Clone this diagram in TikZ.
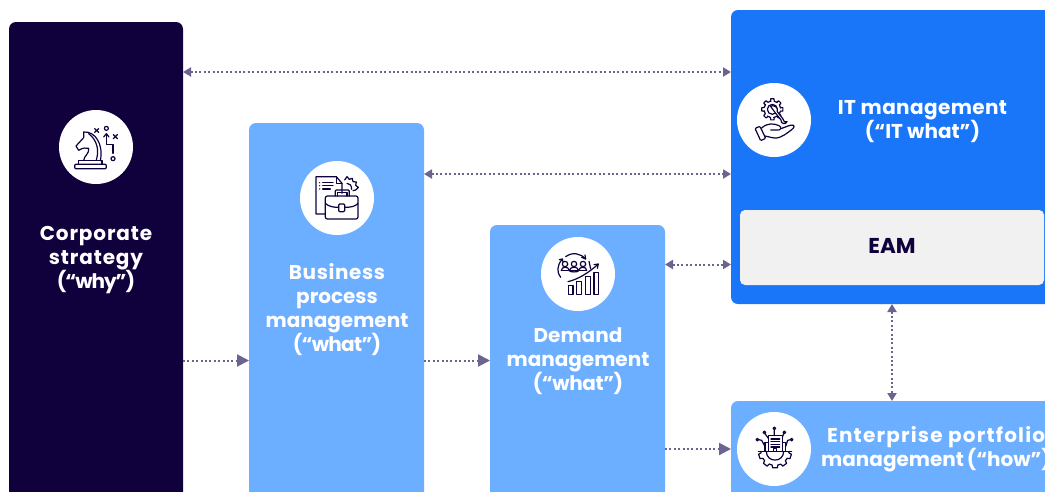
\documentclass[tikz,border=0pt]{standalone}
\usepackage{fontspec}
\setmainfont{Poppins}
\usetikzlibrary{arrows.meta}
\definecolor{navy}{HTML}{10003C}
\definecolor{midblue}{HTML}{1976F8}
\definecolor{lightblue}{HTML}{6CAEFF}
\definecolor{paleg}{HTML}{F1F1F1}
\definecolor{linkc}{HTML}{6B6490}
\tikzset{
  x=1pt,y=-1pt,
  panel/.style={rectangle,rounded corners=7pt,anchor=north west,inner sep=0pt,outer sep=0pt},
  disc/.style={circle,fill=white,minimum size=74pt,inner sep=0pt,outer sep=0pt},
  paneltext/.style={align=center,font=\fontsize{20}{24}\selectfont\bfseries,text=white,inner sep=0pt},
  link/.style={draw=linkc,line width=2pt,dash pattern=on 2pt off 2.4pt},
  oneway/.style={link,-{Triangle[length=12pt,width=12pt,fill=linkc]}},
  twoway/.style={link,{Triangle[length=8pt,width=9pt,fill=linkc]}-{Triangle[length=8pt,width=9pt,fill=linkc]}},
  icon/.style={x=0.3333pt,y=-0.3333pt,draw=navy,line width=1.2pt,line join=round,line cap=round},
}
\newcommand{\ls}[2]{{\addfontfeature{LetterSpace=#1}#2}}
% one gear tooth and the valley after it: cx cy r h angle half-width next-offset
\newcommand{\gearseg}[7]{%
  \draw ([shift={(#1,#2)}]#5-#6-4:#3) -- ([shift={(#1,#2)}]#5-#6:#3+#4) -- ([shift={(#1,#2)}]#5+#6:#3+#4) -- ([shift={(#1,#2)}]#5+#6+4:#3) -- ([shift={(#1,#2)}]#5+#7:#3);}
\begin{document}
\begin{tikzpicture}
\useasboundingbox (0,0) rectangle (1045,491);
\clip (0,0) rectangle (1045,491);
\fill[white] (0,0) rectangle (1045,491);
% panels
\node[panel,fill=navy,minimum width=174pt,minimum height=500pt] (corp) at (9,22) {};
\node[panel,fill=lightblue,minimum width=175pt,minimum height=400pt] (bpm) at (249,123) {};
\node[panel,fill=lightblue,minimum width=175pt,minimum height=300pt] (dem) at (490,225) {};
\node[panel,fill=midblue,minimum width=340pt,minimum height=294pt] (it) at (731,10) {};
\node[panel,fill=paleg,minimum width=304pt,minimum height=75pt,rounded corners=5pt] (eam) at (740,210) {};
\node[panel,fill=lightblue,minimum width=340pt,minimum height=120pt] (ent) at (731,401) {};
% discs
\node[disc] (d1) at (96,147) {};
\node[disc] (d2) at (337,198) {};
\node[disc] (d3) at (578,274) {};
\node[disc] (d4) at (774,120) {};
\node[disc] (d5) at (774,449) {};
% labels
\node[paneltext] (t1) at (96,260) {\ls{4.4}{Corporate}\\\ls{4.3}{strategy}\\\ls{-5}{(“why”)}};
\node[paneltext] (t2) at (337,310) {\ls{3}{Business}\\process\\management\\\ls{-3.5}{(“what”)}};
\node[paneltext] (t3) at (578,361) {Demand\\management\\\ls{-2}{(“what”)}};
\node[paneltext] (t4) at (922.5,122) {\ls{2}{IT management}\\(“IT what”)};
\node[paneltext,text=navy,font=\fontsize{21.5}{24}\selectfont\bfseries] (t5) at (892,246) {EAM};
\node[paneltext,anchor=west] (t6) at (821,449.5) {\ls{6}{Enterprise portfolio}\\management\kern-1.5pt{} (“how”)};
% connector heights
\coordinate (y1) at (0,72);
\coordinate (y2) at (0,174);
\coordinate (y3) at (0,264.5);
\coordinate (y4) at (0,360.5);
\coordinate (y5) at (0,449);
\coordinate (x6) at (892,0);
\draw[twoway] (corp.east |- y1) -- (it.west |- y1);
\draw[twoway] (bpm.east |- y2) -- (it.west |- y2);
\draw[twoway] (dem.east |- y3) -- (it.west |- y3);
\draw[oneway] (corp.east |- y4) -- (bpm.west |- y4);
\draw[oneway] (bpm.east |- y4) -- (dem.west |- y4);
\draw[oneway] (dem.east |- y5) -- (ent.west |- y5);
\draw[twoway] (x6 |- it.south) -- (x6 |- ent.north);
% icon 1: knight
\begin{scope}[shift={(d1.center)},icon,shift={(-227,-168)}]
\draw[rounded corners=1pt] (163,220) rectangle (258,233);
\draw (175,220) -- (175,209) -- (245,209) -- (245,220);
\draw (190,209) .. controls (190,195) and (208,188) .. (205,172) .. controls (195,172) and (190,168) .. (175,178) -- (167,165) -- (190,140) -- (190,123) .. controls (225,120) and (250,160) .. (240,209);
\draw (205,128) .. controls (228,145) and (238,175) .. (228,207);
\draw (223,113) -- (235,124) (235,113) -- (223,124);
\draw (279,131) -- (291,143) (291,131) -- (279,143);
\draw (258,112) circle[radius=2pt];
\draw (278,203) circle[radius=2pt];
\draw (278,187) -- (278,160) -- (258,160) -- (258,130);
\draw (250,138) -- (258,128) -- (266,138);
\end{scope}
% icon 2: document and briefcase
\begin{scope}[shift={(d2.center)},icon,shift={(-170,-144)}]
\draw (133,192) -- (107,192) -- (107,80) -- (168,80) -- (185,100) -- (185,130);
\draw (168,80) -- (168,100) -- (185,100);
\draw (127,98) -- (158,98) (127,107) -- (158,107) (127,117) -- (150,117);
\fill[navy,draw=none] (118,98) circle[radius=0.7pt] (118,107) circle[radius=0.7pt] (118,117) circle[radius=0.7pt];
\draw (193,90) -- (200,80) -- (207,88) -- (216,85) -- (218,95) -- (228,96) -- (226,106) -- (234,112) -- (226,120) -- (218,122);
\draw (200,100) .. controls (208,100) and (214,106) .. (214,118);
\draw[rounded corners=1pt] (165,138) -- (165,120) -- (207,120) -- (207,138);
\draw (172,138) -- (172,128) -- (200,128) -- (200,138);
\draw[rounded corners=2pt] (135,138) rectangle (233,207);
\draw (135,160) .. controls (145,170) and (160,172) .. (175,172);
\draw (193,172) .. controls (210,172) and (225,170) .. (233,160);
\draw[rounded corners=1pt] (175,162) rectangle (193,185);
\end{scope}
% icon 3: team and growth
\begin{scope}[shift={(d3.center)},icon,shift={(-172,-130)}]
\draw (133,100) circle[radius=2.7pt] (160,100) circle[radius=2.7pt] (187,100) circle[radius=2.7pt];
\draw (122,120) .. controls (122,106) and (144,106) .. (146,120) .. controls (148,106) and (172,106) .. (174,120) .. controls (176,106) and (198,106) .. (198,120);
\draw (122,120) -- (198,120);
\draw (146,120) .. controls (146,125) and (174,125) .. (174,120);
\draw (143,165) rectangle (157,192);
\draw (168,152) rectangle (183,192);
\draw (195,138) rectangle (209,192);
\draw (220,125) rectangle (233,192);
\draw (142,153) .. controls (175,145) and (205,125) .. (232,101);
\draw (220,102) -- (233,100) -- (230,113);
\draw (135,78) .. controls (155,63) and (180,68) .. (195,85);
\draw (183,80) -- (195,85) -- (193,73);
\draw (120,140) .. controls (108,125) and (108,105) .. (125,85);
\draw (116,87) -- (125,85) -- (127,94);
\draw (205,92) -- (210,115);
\end{scope}
% icon 4: hand and gear
\begin{scope}[shift={(d4.center)},icon,shift={(-145,-150)}]
\foreach \a in {0,45,...,315}{\gearseg{140}{118}{25}{7}{\a}{9}{36}}
\draw (140,118) circle[radius=5pt];
\draw[fill=white] (134,108) -- (150,130) -- (166,150) .. controls (165,162) and (180,165) .. (184,155) -- (176,155) -- (172,147) -- (155,125) .. controls (158,110) and (145,105) .. (134,108);
\draw[rounded corners=1pt] (88,175) -- (103,169) -- (120,205) -- (105,212) -- cycle;
\draw (108,174) .. controls (125,158) and (145,160) .. (160,167) .. controls (170,172) and (165,182) .. (155,180) -- (135,180);
\draw (165,176) .. controls (180,172) and (195,162) .. (204,166) .. controls (208,172) and (200,178) .. (190,185) .. controls (170,200) and (155,208) .. (140,203) -- (118,198);
\end{scope}
% icon 5: building on gear
\begin{scope}[shift={(d5.center)},icon,shift={(-145,-150)}]
\draw (98,157) -- (198,157);
\foreach \a in {18,54,90,126}{\gearseg{148}{157}{42}{8}{\a}{8}{24}}
\gearseg{148}{157}{42}{8}{162}{8}{18}
\draw (190,157) -- ([shift={(148,157)}]6:42);
\draw (122,157) .. controls (122,192) and (174,192) .. (174,157);
\draw (128,157) -- (128,110) -- (170,110) -- (170,157);
\draw (128,130) -- (118,130) -- (118,157) (170,130) -- (180,130) -- (180,157);
\draw (136,120) -- (162,120) (136,128) -- (162,128) (136,136) -- (162,136) (136,144) -- (162,144);
\draw (143,157) -- (143,148) -- (153,148) -- (153,157);
\draw (146,88) circle[radius=1.3pt] (146,92) -- (146,110);
\draw (116,100) circle[radius=1.3pt] (118,104) -- (128,118);
\draw (176,100) circle[radius=1.3pt] (174,104) -- (170,115);
\draw (95,122) circle[radius=1.3pt] (99,122) -- (108,124) -- (118,142);
\draw (198,122) circle[radius=1.3pt] (194,122) -- (186,124) -- (180,142);
\end{scope}
\end{tikzpicture}
\end{document}
